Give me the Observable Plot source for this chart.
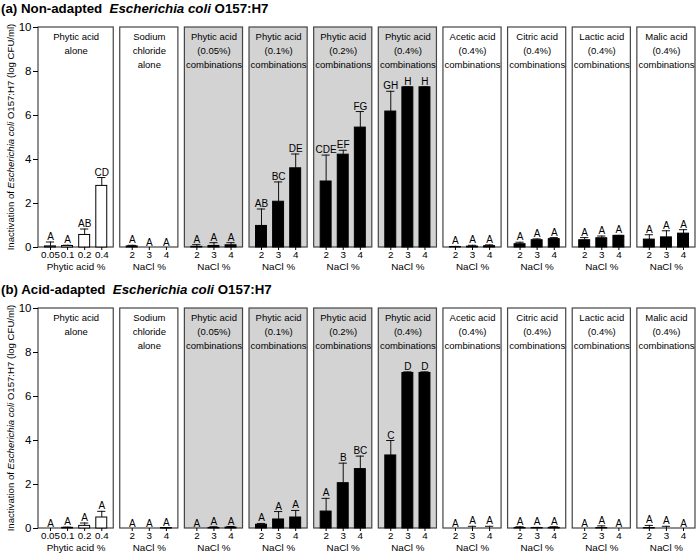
<!DOCTYPE html>
<html><head><meta charset="utf-8">
<script src="https://cdn.jsdelivr.net/npm/d3@7"></script>
<script src="https://cdn.jsdelivr.net/npm/@observablehq/plot@0.6"></script>
<style>
body{margin:0;background:#fff;font-family:"Liberation Sans",Arial,sans-serif;color:#000;}
.title{height:18px;font-weight:bold;font-size:13.3px;line-height:18px;white-space:pre;padding-left:1px;}
svg{display:block}
</style></head><body><div id="root"></div>
<script>
// ---- data ----
const sectionTitles = ["(a) Non-adapted  ", "(b) Acid-adapted  "];
const panelTitles = [
  "Phytic acid\nalone", "Sodium\nchloride\nalone",
  "Phytic acid\n(0.05%)\ncombinations", "Phytic acid\n(0.1%)\ncombinations",
  "Phytic acid\n(0.2%)\ncombinations", "Phytic acid\n(0.4%)\ncombinations",
  "Acetic acid\n(0.4%)\ncombinations", "Citric acid\n(0.4%)\ncombinations",
  "Lactic acid\n(0.4%)\ncombinations", "Malic acid\n(0.4%)\ncombinations"
];
const panelAxisLabels = ["Phytic acid %", "NaCl %", "NaCl %", "NaCl %", "NaCl %", "NaCl %", "NaCl %", "NaCl %", "NaCl %", "NaCl %"];
const panelCategories = [
  ["0.05", "0.1", "0.2", "0.4"], ["2", "3", "4"], ["2", "3", "4"], ["2", "3", "4"], ["2", "3", "4"],
  ["2", "3", "4"], ["2", "3", "4"], ["2", "3", "4"], ["2", "3", "4"], ["2", "3", "4"]
];
const panelGroups = ["phytic alone", "NaCl alone", "phytic+NaCl", "phytic+NaCl", "phytic+NaCl", "phytic+NaCl",
  "organic acid+NaCl", "organic acid+NaCl", "organic acid+NaCl", "organic acid+NaCl"];
const yTicks = [0, 2, 4, 6, 8, 10];

const nonAdaptedMean = [0.05, 0.07, 0.57, 2.8, 0.05, 0, 0, 0.03, 0.07, 0.1, 0.98, 2.08, 3.6, 3.0, 4.22, 5.45,
  6.18, 7.28, 7.28, 0.02, 0.04, 0.06, 0.15, 0.33, 0.38, 0.33, 0.42, 0.53, 0.36, 0.46, 0.63];
const nonAdaptedErr = [0.2, 0.03, 0.27, 0.38, 0.05, 0, 0, 0.1, 0.15, 0.12, 0.77, 0.9, 0.65, 1.2, 0.2, 0.73,
  0.92, 0.02, 0.02, 0.03, 0.06, 0.06, 0.09, 0.06, 0.07, 0.12, 0.1, 0.02, 0.22, 0.3, 0.18];
const nonAdaptedLetters = ["A", "A", "AB", "CD", "A", "A", "A", "A", "A", "A", "AB", "BC", "DE", "CDE", "EF", "FG",
  "GH", "H", "H", "A", "A", "A", "A", "A", "A", "A", "A", "A", "A", "A", "A"];

const acidAdaptedMean = [0, 0.03, 0.12, 0.5, 0, 0, 0.02, 0, 0.02, 0.04, 0.17, 0.41, 0.5, 0.77, 2.06, 2.7,
  3.32, 7.07, 7.07, 0, 0, 0, 0.02, 0.02, 0.03, 0, 0.02, 0, 0.02, 0, 0];
const acidAdaptedErr = [0, 0.03, 0.13, 0.28, 0, 0, 0.01, 0, 0.06, 0.05, 0.06, 0.36, 0.32, 0.6, 0.91, 0.59,
  0.68, 0.05, 0.05, 0, 0.1, 0.1, 0.06, 0.03, 0.05, 0, 0.1, 0, 0.12, 0.1, 0];
const acidAdaptedLetters = ["A", "A", "A", "A", "A", "A", "A", "A", "A", "A", "A", "A", "A", "A", "B", "BC",
  "C", "D", "D", "A", "A", "A", "A", "A", "A", "A", "A", "A", "A", "A", "A"];

// ---- layout helpers ----
const SLOT_PAD = 0.7, GAP = 0.38, BAR_HALF = 0.32, CAP_HALF = 0.24;
const FONT = "Liberation Sans, Arial, sans-serif";

function buildChart(mean, err, letters) {
  let start = 0, k = 0;
  const panels = [], bars = [];
  panelCategories.forEach((cats, p) => {
    const x1 = start, x2 = start + (cats.length - 1) + 2 * SLOT_PAD;
    panels.push({x1, x2, xc: (x1 + x2) / 2, title: panelTitles[p], axis: panelAxisLabels[p], group: panelGroups[p]});
    cats.forEach((c, j) => {
      bars.push({x: x1 + SLOT_PAD + j, cat: c, mean: mean[k], err: err[k], top: mean[k] + err[k],
        letter: letters[k], group: panelGroups[p]});
      k++;
    });
    start = x2 + GAP;
  });
  const total = start - GAP;
  const tickLabel = new Map(bars.map(d => [d.x, d.cat]));
  const withErr = bars.filter(d => d.err > 0);

  const chart = Plot.plot({
    width: 696, height: 263,
    marginLeft: 38, marginRight: 1, marginTop: 9, marginBottom: 34,
    style: {fontFamily: FONT, color: "#000", background: "transparent"},
    x: {domain: [0, total], axis: null},
    y: {domain: [0, 10], axis: null},
    marks: [
      Plot.rect(panels, {x1: "x1", x2: "x2", y1: 0, y2: 10,
        fill: d => d.group === "phytic+NaCl" ? "#d3d3d3" : "#ffffff", stroke: "#444", strokeWidth: 1.2}),
      Plot.ruleX(withErr, {x: "x", y1: "mean", y2: "top", stroke: "#111", strokeWidth: 1}),
      Plot.ruleY(withErr, {x1: d => d.x - CAP_HALF, x2: d => d.x + CAP_HALF, y: "top", stroke: "#111", strokeWidth: 1}),
      Plot.rectY(bars.filter(d => d.mean > 0), {x1: d => d.x - BAR_HALF, x2: d => d.x + BAR_HALF, y1: 0, y2: "mean",
        fill: d => d.group === "phytic alone" ? "#fff" : "#000", stroke: "#000", strokeWidth: 1}),
      Plot.text(bars, {x: "x", y: "top", text: "letter", lineAnchor: "bottom", dy: -2, fontSize: 10, fill: "#000"}),
      Plot.text(panels, {x: "xc", y: 10, text: "title", lineAnchor: "top", dy: 3, lineHeight: 1.45, fontSize: 9.5, fill: "#000"}),
      Plot.axisX({ticks: bars.map(d => d.x), tickFormat: d => tickLabel.get(d), tickSize: 3, tickPadding: 1,
        fontSize: 9.8, label: null, fill: "#000"}),
      Plot.text(panels, {x: "xc", y: 0, text: "axis", lineAnchor: "top", dy: 16, fontSize: 9.8, fill: "#000"}),
      Plot.axisY({ticks: yTicks, tickSize: 5, tickPadding: 2, fontSize: 11.5, label: null, fill: "#000"})
    ]
  });

  // y-axis label with italic species name
  const y = chart.scale("y");
  const yc = (y.apply(0) + y.apply(10)) / 2;
  const t = d3.select(chart).append("text")
    .attr("transform", `translate(11,${yc}) rotate(-90)`)
    .attr("text-anchor", "middle").attr("dominant-baseline", "middle")
    .attr("font-size", 9.6).attr("font-family", FONT).attr("fill", "#000");
  t.append("tspan").text("Inactivation of ");
  t.append("tspan").attr("font-style", "italic").text("Escherichia coli");
  t.append("tspan").text(" O157:H7 (log CFU/ml)");
  return chart;
}

const root = document.getElementById("root");
[[nonAdaptedMean, nonAdaptedErr, nonAdaptedLetters], [acidAdaptedMean, acidAdaptedErr, acidAdaptedLetters]]
  .forEach(([m, e, l], i) => {
    const title = document.createElement("div");
    title.className = "title";
    title.append(sectionTitles[i]);
    const it = document.createElement("i");
    it.textContent = "Escherichia coli";
    title.append(it, " O157:H7");
    root.append(title, buildChart(m, e, l));
  });
</script>
</body></html>
